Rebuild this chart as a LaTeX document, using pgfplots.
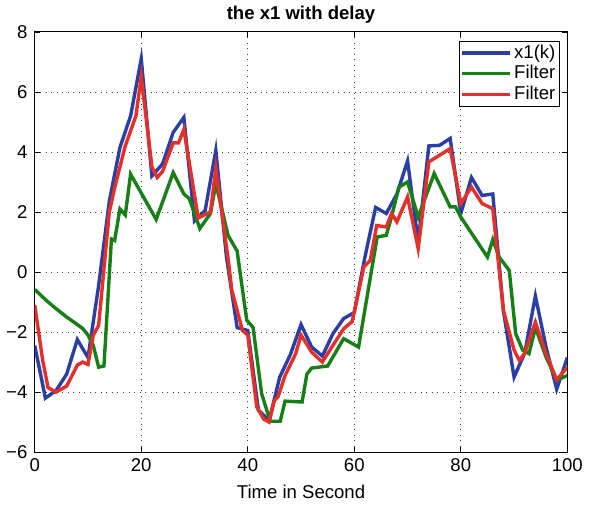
\documentclass[border=0pt]{standalone}
\usepackage{fontspec}
\setmainfont{Liberation Sans}
\usepackage{pgfplots}
\pgfplotsset{compat=1.18}
\definecolor{mblue}{RGB}{42,62,165}
\definecolor{mgreen}{RGB}{22,128,22}
\definecolor{mred}{RGB}{228,48,40}
\begin{document}
\fontsize{18.5}{22}\selectfont
\begin{tikzpicture}
\begin{axis}[
  width=531pt, height=419pt, scale only axis,
  xmin=0, xmax=100, ymin=-6, ymax=8,
  xtick={0,20,...,100}, ytick={-6,-4,...,8},
  yticklabels={−6,−4,−2,0,2,4,6,8},
  tick align=inside, tick pos=both,
  major tick length=5pt,
  grid=major,
  major grid style={dash pattern=on 1pt off 4.5pt, black!75, line width=0.8pt},
  axis line style={line width=0.8pt},
  every tick/.style={black, line width=0.7pt},
  tick label style={font=\fontsize{18.5}{22}\selectfont},
  yticklabel style={xshift=-1pt},
  /pgf/number format/assume math mode=true,
  title={\bfseries the x1 with delay},
  title style={font=\fontsize{18.5}{22}\selectfont, yshift=-4pt},
  xlabel={Time in Second},
  xlabel style={font=\fontsize{18.5}{22}\selectfont, yshift=-1pt},
  legend style={at={(1,1)}, anchor=north east, xshift=-8pt, yshift=-9pt,
    draw=black, line width=0.8pt,
    font=\fontsize{18.5}{20}\selectfont, inner sep=1.5pt, row sep=0.5pt,
    /tikz/every even column/.append style={column sep=0pt}},
  legend cell align=left,
  legend image code/.code={\draw[#1, line width=3.4pt] (0pt,0pt) -- (48pt,0pt);},
]
\addplot[mblue, line width=3.4pt] coordinates {
(0,-2.45) (2,-4.2) (4,-3.95) (6,-3.4) (8,-2.25) (10,-2.85) (12,-0.45) (14,2.35)
(16,4.15) (18,5.2) (20,7.1) (22,3.2) (24,3.6) (26,4.65) (28,5.15) (30,1.7)
(32,2.05) (34,4.05) (36,0.5) (38,-1.85) (40,-1.95) (42,-4.6) (44,-4.95) (46,-3.5)
(48,-2.75) (50,-1.75) (52,-2.5) (54,-2.8) (56,-2.05) (58,-1.55) (60,-1.35) (62,0.5)
(64,2.15) (66,1.95) (68,2.6) (70,3.7) (72,1.0) (74,4.2) (76,4.22) (78,4.45)
(80,1.95) (82,3.15) (84,2.55) (86,2.6) (88,-1.3) (90,-3.5) (92,-2.7) (94,-0.8)
(96,-2.5) (98,-3.9) (100,-2.85)
};
\addplot[mgreen, line width=3.4pt] coordinates {
(0,-0.58) (2,-0.92) (4,-1.22) (6,-1.5) (8,-1.75) (9,-1.88) (10,-2.1) (11,-2.45)
(12,-3.17) (13,-3.13) (14.4,1.1) (15,1.05) (16,2.1) (17,1.9) (18,3.26) (22.8,1.75)
(26,3.31) (28,2.6) (29,2.45) (31,1.45) (33,1.95) (34,2.95) (36.3,1.22) (38,0.7)
(39.8,-1.6) (41,-1.85) (42.6,-4.05) (44.2,-4.97) (46.1,-4.97) (47,-4.3) (50.2,-4.33)
(51.1,-3.4) (52,-3.2) (55,-3.13) (58,-2.22) (60.8,-2.5) (64.3,1.17) (66,1.22)
(66.8,1.72) (68.4,2.83) (70,3.0) (72,1.83) (75,3.28) (78,2.17) (79,2.17) (80,1.83)
(85,0.5) (86,1.08) (87.2,0.5) (89.1,0.05) (90.3,-2.05) (91.6,-2.6) (92.8,-2.72)
(94,-1.85) (96,-2.83) (98,-3.6) (100,-3.45)
};
\addplot[mred, line width=3.4pt] coordinates {
(0,-1.1) (1.5,-2.95) (2.5,-3.85) (4,-4.0) (6,-3.8) (8,-3.1) (9,-3.0) (10,-3.08)
(11,-2.1) (12,-1.78) (14,2.0) (15,2.8) (17,4.2) (19,5.2) (20,6.5) (22,3.5)
(23,3.15) (24,3.35) (26,4.3) (27,4.3) (28,4.75) (30.7,1.8) (33,2.0) (34,3.45)
(36.3,0.45) (37,-0.6) (39,-1.95) (40,-2.1) (41.7,-4.5) (43,-4.9) (44,-5.0)
(45,-4.28) (45.7,-4.15) (47,-3.45) (49,-2.72) (50,-2.1) (52,-2.67) (54,-3.0)
(56,-2.44) (58,-1.89) (59.6,-1.65) (61.8,0.17) (63,0.39) (64.2,1.55) (66,1.5)
(67,1.95) (68,1.67) (70,2.5) (72,0.78) (74,3.67) (76,3.89) (78,4.11) (80,2.28)
(82,2.83) (84,2.28) (86,2.11) (88,-1.28) (90,-2.6) (91,-2.95) (92,-2.7) (94,-1.67)
(96,-2.72) (98,-3.59) (100,-3.17)
};
\legend{x1(k), Filter, Filter}
\end{axis}
\end{tikzpicture}
\end{document}
